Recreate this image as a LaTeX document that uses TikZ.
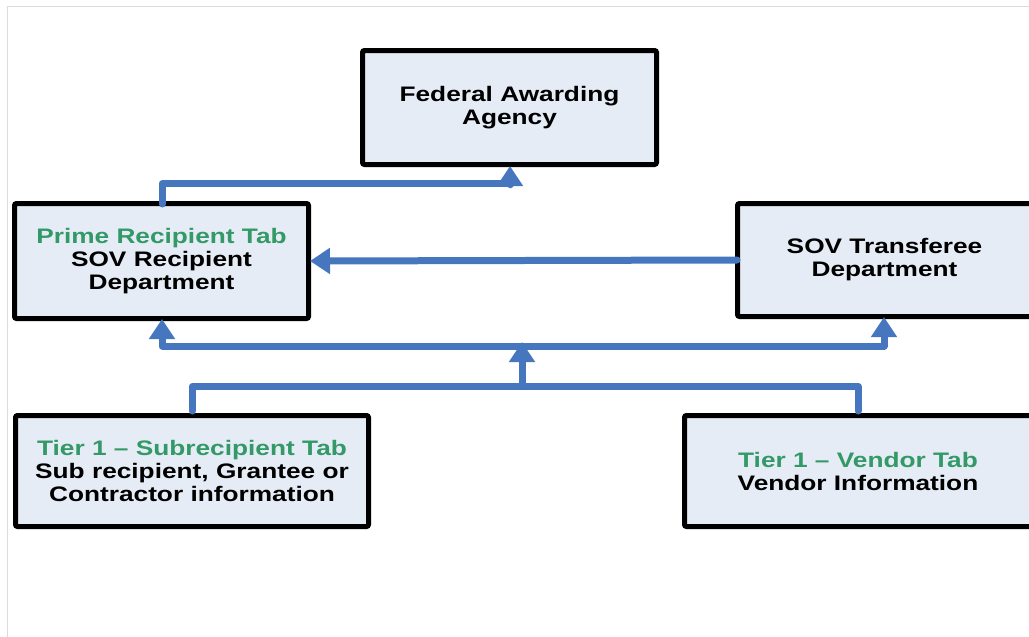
\documentclass[tikz,border=0pt]{standalone}
\usepackage{fontspec}
\setmainfont{Liberation Sans}[FakeStretch=1.25]
\usetikzlibrary{arrows.meta}
\definecolor{boxfill}{RGB}{230,236,246}
\definecolor{connblue}{RGB}{70,119,190}
\definecolor{tabgreen}{RGB}{51,153,102}
\definecolor{framegray}{RGB}{220,220,220}
\tikzset{
  box/.style={draw=black, line width=5pt, fill=boxfill, rounded corners=2pt,
    align=center, inner sep=0pt,
    font=\fontsize{21}{23}\selectfont\bfseries},
  link/.style={draw=connblue, line width=7pt, line cap=round, line join=round},
  tip/.style={-{Triangle[width=25pt,length=20pt]}},
  tips/.style={{Triangle[width=25pt,length=20pt]}-{Triangle[width=25pt,length=20pt]}}
}
\newcommand{\tabname}[1]{\textcolor{tabgreen}{#1}}
\begin{document}
\begin{tikzpicture}[x=1pt,y=-1pt]
\useasboundingbox (0,0) rectangle (1029,637);
\draw[framegray, line width=1pt] (7,637) -- (7,6) -- (1029,6);

\node[box, minimum width=294pt, minimum height=114pt] (fed) at (509.5,107.5)
  {Federal Awarding\\Agency};
\node[box, minimum width=294pt, minimum height=115pt] (prime) at (161.5,261)
  {\tabname{Prime Recipient Tab}\\SOV Recipient\\Department};
\node[box, minimum width=294pt, minimum height=113pt] (sov) at (884.5,260)
  {SOV Transferee\\Department};
\node[box, minimum width=353pt, minimum height=111pt] (sub) at (192,471)
  {\tabname{Tier 1 -- Subrecipient Tab}\\Sub recipient, Grantee or\\Contractor information};
\node[box, minimum width=347pt, minimum height=111pt] (vend) at (858,471)
  {\tabname{Tier 1 -- Vendor Tab}\\Vendor Information};

\coordinate (up1) at (162,183.5);
\coordinate (bus) at (522,346);
\coordinate (junc) at (522,386.5);

% prime -> federal
\draw[link, tip] ([xshift=0.5pt,yshift=-3pt]prime.north) |- (up1) -| ([xshift=0.5pt,yshift=1pt]fed.south);
% transferee -> prime
\draw[link, tip] ([xshift=2pt]sov.west) -- ([xshift=-1pt]prime.east);
% bus to prime and transferee
\draw[link, tips] ([xshift=0.5pt,yshift=2pt]prime.south) |- (bus) -| ([xshift=-0.5pt,yshift=2pt]sov.south);
% tier 1 collector
\draw[link] ([yshift=2pt]sub.north) |- (junc) -| ([yshift=2pt]vend.north);
\draw[link, tip] (junc) -- ([yshift=4pt]bus);
\end{tikzpicture}
\end{document}
